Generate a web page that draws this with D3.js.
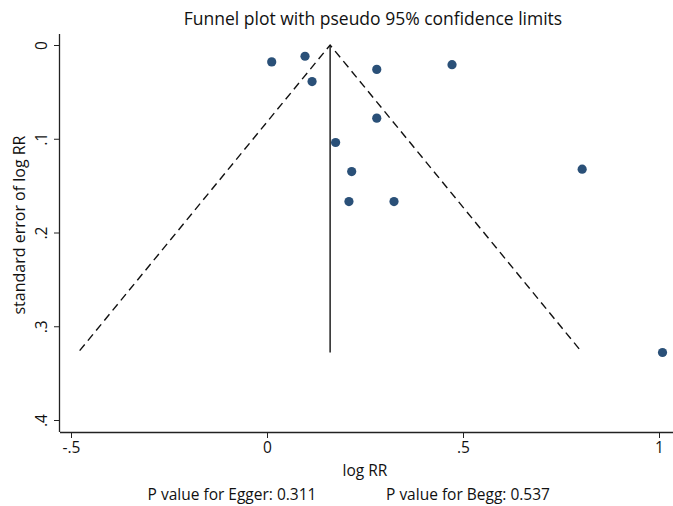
<!DOCTYPE html>
<html>
<head>
<meta charset="utf-8">
<script src="https://cdn.jsdelivr.net/npm/d3@7"></script>
<style>
  body { margin: 0; background: #fff; }
  svg text { font-family: "Open Sans", "Noto Sans", sans-serif; fill: #111; }
</style>
</head>
<body>
<svg id="chart" width="673" height="506"></svg>
<script>
// Study estimates: log relative risk and its standard error
const logRR = [0.012, 0.097, 0.115, 0.175, 0.280, 0.472, 0.280, 0.216, 0.209, 0.324, 0.804, 1.009];
const seLogRR = [0.018, 0.012, 0.039, 0.104, 0.026, 0.021, 0.078, 0.135, 0.167, 0.167, 0.1325, 0.328];

// Pooled estimate and funnel extent
const pooled = 0.161;
const funnelMaxSE = 0.326;
const z95 = 1.96;

const xTicks = [-0.5, 0, 0.5, 1];
const xTickLabels = ["-.5", "0", ".5", "1"];
const yTicks = [0, 0.1, 0.2, 0.3, 0.4];
const yTickLabels = ["0", ".1", ".2", ".3", ".4"];

const title = "Funnel plot with pseudo 95% confidence limits";
const xTitle = "log RR";
const yTitle = "standard error of log RR";
const notes = ["P value for Egger: 0.311", "P value for Begg: 0.537"];

const svg = d3.select("#chart");
const plot = { left: 60, right: 673, top: 34, bottom: 432 };

const x = d3.scaleLinear().domain([-0.5, 1]).range([71, 659]);
const y = d3.scaleLinear().domain([0, 0.4]).range([45, 420]);

// Axes
const xAxis = svg.append("g")
  .attr("transform", `translate(0,${plot.bottom})`)
  .call(d3.axisBottom(x).tickValues(xTicks).tickSize(6).tickPadding(4)
    .tickFormat((d, i) => xTickLabels[i]));
xAxis.select(".domain").attr("d", `M${plot.left},0.5H${plot.right}`).attr("stroke", "#222").attr("stroke-width", 1.3);
xAxis.selectAll(".tick line").attr("stroke", "#222");
xAxis.selectAll(".tick text").attr("font-size", 15.5).attr("font-family", null).style("fill", "#111");

const yAxis = svg.append("g")
  .attr("transform", `translate(${plot.left},0)`)
  .call(d3.axisLeft(y).tickValues(yTicks).tickSize(6).tickPadding(0)
    .tickFormat((d, i) => yTickLabels[i]));
yAxis.select(".domain").attr("d", `M-0.5,${plot.top}V${plot.bottom}`).attr("stroke", "#222").attr("stroke-width", 1.3);
yAxis.selectAll(".tick line").attr("stroke", "#222");
yAxis.selectAll(".tick text")
  .attr("font-size", 15.5).attr("font-family", null).style("fill", "#111")
  .attr("x", null).attr("dy", null)
  .attr("text-anchor", "middle")
  .attr("transform", "translate(-13,0) rotate(-90)");

// Pseudo 95% confidence limits
const lo = pooled - z95 * funnelMaxSE;
const hi = pooled + z95 * funnelMaxSE;
const dash = d3.line().x(d => x(d[0])).y(d => y(d[1]));
svg.append("path")
  .attr("d", dash([[lo, funnelMaxSE], [pooled, 0], [hi, funnelMaxSE]]))
  .attr("fill", "none").attr("stroke", "#111").attr("stroke-width", 1.4)
  .attr("stroke-dasharray", "8,5");

// Pooled effect line
svg.append("line")
  .attr("x1", x(pooled)).attr("x2", x(pooled))
  .attr("y1", y(0)).attr("y2", y(seLogRR[11]))
  .attr("stroke", "#111").attr("stroke-width", 1.4);

// Studies
svg.append("g").selectAll("circle")
  .data(logRR.map((v, i) => [v, seLogRR[i]]))
  .join("circle")
  .attr("cx", d => x(d[0])).attr("cy", d => y(d[1]))
  .attr("r", 4.6).attr("fill", "#2a5078");

// Titles and notes
svg.append("text").attr("x", 373).attr("y", 25).attr("text-anchor", "middle")
  .attr("font-size", 17.5).text(title);
svg.append("text").attr("x", 365).attr("y", 476).attr("text-anchor", "middle")
  .attr("font-size", 15.5).text(xTitle);
svg.append("text").attr("transform", "translate(25,225) rotate(-90)").attr("text-anchor", "middle")
  .attr("font-size", 16).text(yTitle);
svg.append("text").attr("x", 232).attr("y", 500).attr("text-anchor", "middle")
  .attr("font-size", 15.5).text(notes[0]);
svg.append("text").attr("x", 468).attr("y", 500).attr("text-anchor", "middle")
  .attr("font-size", 15.5).text(notes[1]);
</script>
</body>
</html>
